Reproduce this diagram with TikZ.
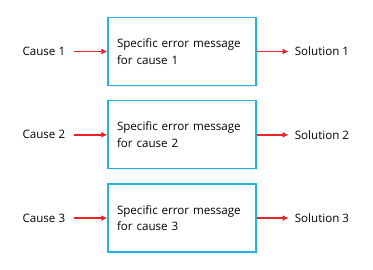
\documentclass[tikz,border=0pt]{standalone}
\usepackage{fontspec}
\setmainfont{Open Sans}
\usepackage{xcolor}
\usetikzlibrary{arrows.meta,positioning,shadows}

\definecolor{errblue}{HTML}{1EB4EA}
\definecolor{arrred}{HTML}{EE2227}

\begin{document}
\begin{tikzpicture}[
    x=1pt, y=1pt,
    errbox/.style={
        rectangle, draw=errblue, line width=1.3pt, fill=white,
        minimum width=148pt, minimum height=68pt,
        text width=130pt, align=left, font=\fontsize{11.6}{16.5}\selectfont,
        drop shadow={opacity=0.15, shadow xshift=1.5pt, shadow yshift=-1.5pt},
    },
    lbl/.style={font=\fontsize{11.6}{13}\selectfont, inner sep=0pt},
    arr/.style={-{Latex[length=6pt,width=6pt]}, arrred, line width=1.6pt},
]
\useasboundingbox (0,0) rectangle (373,-269);

% Boxes
\node[errbox] (e1) at (182,-51.5) {Specific error message\\for cause 1};
\node[errbox, below=14pt of e1] (e2) {Specific error message\\for cause 2};
\node[errbox, below=14pt of e2] (e3) {Specific error message\\for cause 3};

% Causes and solutions
\foreach \i in {1,2,3} {
    \node[lbl, left=42pt of e\i] (c\i) {Cause \i};
    \node[lbl, right=38pt of e\i] (s\i) {Solution \i};
    \draw[arr] ([xshift=9pt]c\i.east) -- (e\i.west);
    \draw[arr] (e\i.east) -- ([xshift=-6pt]s\i.west);
}

\end{tikzpicture}
\end{document}
